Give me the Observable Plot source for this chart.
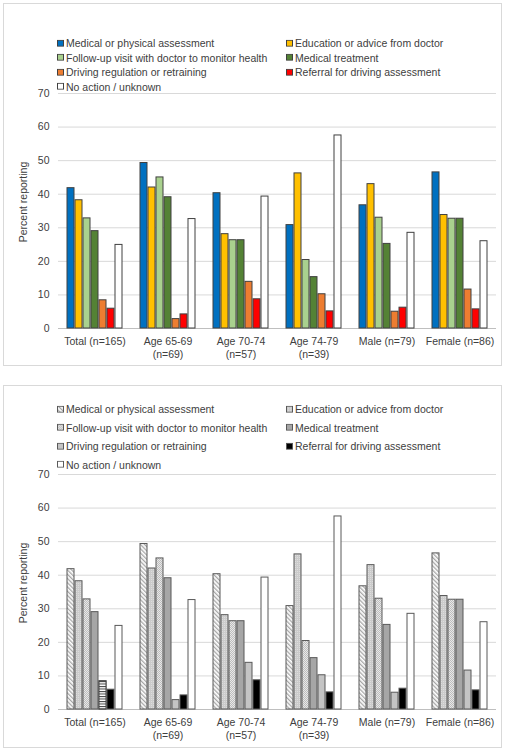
<!DOCTYPE html>
<html><head><meta charset="utf-8">
<script src="https://cdn.jsdelivr.net/npm/d3@7"></script>
<script src="https://cdn.jsdelivr.net/npm/@observablehq/plot@0.6"></script>
<style>
body{margin:0;width:506px;height:750px;position:relative;font-family:"Liberation Sans",Arial,sans-serif;background:#fff;overflow:hidden;}
.panel{position:absolute;left:3px;width:499px;border:1px solid #d9d9d9;box-sizing:border-box;}
.item{position:absolute;display:flex;align-items:center;white-space:nowrap;transform:translateY(-50%);font-size:10.5px;color:#404040;line-height:1;}
.item svg{margin-right:2px;display:block;}
.chart{position:absolute;left:0;}
</style></head><body>
<svg width="0" height="0" style="position:absolute;left:0;top:0"><defs>
<pattern id="pDiag" width="3" height="3" patternUnits="userSpaceOnUse" patternTransform="rotate(-45)">
<rect width="3" height="3" fill="#ffffff"/><rect width="1.3" height="3" fill="#a6a6a6"/></pattern>
<pattern id="pEdu" width="2" height="2" patternUnits="userSpaceOnUse">
<rect width="2" height="2" fill="#cbcbcb"/><rect width="1" height="1" fill="#dddddd"/></pattern>
<pattern id="pFollow" width="2" height="2" patternUnits="userSpaceOnUse">
<rect width="2" height="2" fill="#e8e8e8"/><rect width="1" height="1" fill="#bdbdbd"/><rect x="1" y="1" width="1" height="1" fill="#bdbdbd"/></pattern>
<pattern id="pHStripe" width="4" height="2.5" patternUnits="userSpaceOnUse">
<rect width="4" height="2.5" fill="#ffffff"/><rect width="4" height="1" fill="#404040"/></pattern>
</defs></svg>
<div class="panel" style="top:3px;height:363px"></div>
<div class="panel" style="top:385px;height:363px"></div>
<div id="root"></div>
<script>
const groups = ["Total (n=165)", "Age 65-69\n(n=69)", "Age 70-74\n(n=57)", "Age 74-79\n(n=39)", "Male (n=79)", "Female (n=86)"];
const series = ["Medical or physical assessment", "Education or advice from doctor", "Follow-up visit with doctor to monitor health", "Medical treatment", "Driving regulation or retraining", "Referral for driving assessment", "No action / unknown"];
const medical   = [41.8, 49.3, 40.3, 30.8, 36.7, 46.5];
const education = [38.2, 42.0, 28.1, 46.2, 43.0, 33.8];
const followUp  = [32.8, 45.0, 26.3, 20.4, 33.0, 32.7];
const treatment = [29.0, 39.1, 26.3, 15.3, 25.2, 32.7];
const driving   = [8.4, 2.8, 13.9, 10.2, 5.0, 11.6];
const referral  = [5.9, 4.2, 8.7, 5.1, 6.2, 5.7];
const noAction  = [24.9, 32.6, 39.3, 57.5, 28.5, 26.0];
const yTicks = [0, 10, 20, 30, 40, 50, 60, 70];
const yLabel = "Percent reporting";

const seriesValues = [medical, education, followUp, treatment, driving, referral, noAction];
const rows = [];
groups.forEach((g, gi) => series.forEach((s, si) => rows.push({group: g, series: s, value: seriesValues[si][gi]})));

const colorFills = ["#0070c0", "#ffc000", "#a9d18e", "#548235", "#ed7d31", "#ff0000", "#ffffff"];
const grayFills = ["url(#pDiag)", "url(#pEdu)", "url(#pFollow)", "#a6a6a6", "#c4c4c4", "#000000", "#ffffff"];

function chart(fills, stroke, extra) {
  return Plot.plot({
    width: 506, height: 280,
    marginLeft: 58, marginRight: 10, marginTop: 13, marginBottom: 32,
    style: {fontFamily: "'Liberation Sans', Arial, sans-serif", fontSize: "10.5px", color: "#404040", background: "transparent", overflow: "visible"},
    fx: {domain: groups, padding: 0, axis: null},
    x: {domain: series, paddingInner: 0.1, paddingOuter: 0.93, axis: null},
    y: {domain: [0, 70], ticks: yTicks, tickSize: 0, tickPadding: 9, label: null},
    color: {domain: series, range: fills},
    marks: [
      Plot.ruleY(yTicks.slice(1), {stroke: "#d9d9d9", strokeWidth: 1}),
      Plot.ruleY([0], {stroke: "#bfbfbf", strokeWidth: 1}),
      Plot.barY(rows, {fx: "group", x: "series", y: "value", fill: "series", stroke: stroke, strokeWidth: 1}),
      ...extra,
      Plot.text(groups, {fx: d => d, text: d => d, frameAnchor: "bottom", lineAnchor: "top", dy: 7, lineHeight: 1.25, fill: "#404040"}),
      Plot.text([yLabel], {fx: () => groups[0], text: d => d, frameAnchor: "left", textAnchor: "middle", lineAnchor: "middle", rotate: -90, dx: -35, dy: -9, fill: "#404040"})
    ]
  });
}

function legend(fills, stroke, rowYs) {
  const root = document.getElementById("root");
  series.forEach((s, i) => {
    const div = document.createElement("div");
    div.className = "item";
    div.style.left = (i % 2 === 0 ? 57 : 286) + "px";
    div.style.top = rowYs[Math.floor(i / 2)] + "px";
    div.innerHTML = `<svg width="7" height="7"><rect x="0.5" y="0.5" width="6" height="6" fill="${fills[i]}" stroke="${stroke}" stroke-width="1"/></svg><span>${s}</span>`;
    root.appendChild(div);
  });
}

const root = document.getElementById("root");
const c1 = chart(colorFills, "#404040", []);
c1.classList.add("chart"); c1.style.top = "80px";
root.appendChild(c1);
legend(colorFills, "#404040", [43, 57.5, 72, 86.5]);

const totalDriving = rows.filter(d => d.group === groups[0] && d.series === series[4]);
const c2 = chart(grayFills, "#595959", [
  Plot.barY(totalDriving, {fx: "group", x: "series", y: "value", fill: "url(#pHStripe)", stroke: "#404040", strokeWidth: 1})
]);
c2.classList.add("chart"); c2.style.top = "461px";
root.appendChild(c2);
legend(grayFills, "#595959", [409, 427.5, 446, 464.5]);
</script>
</body></html>
